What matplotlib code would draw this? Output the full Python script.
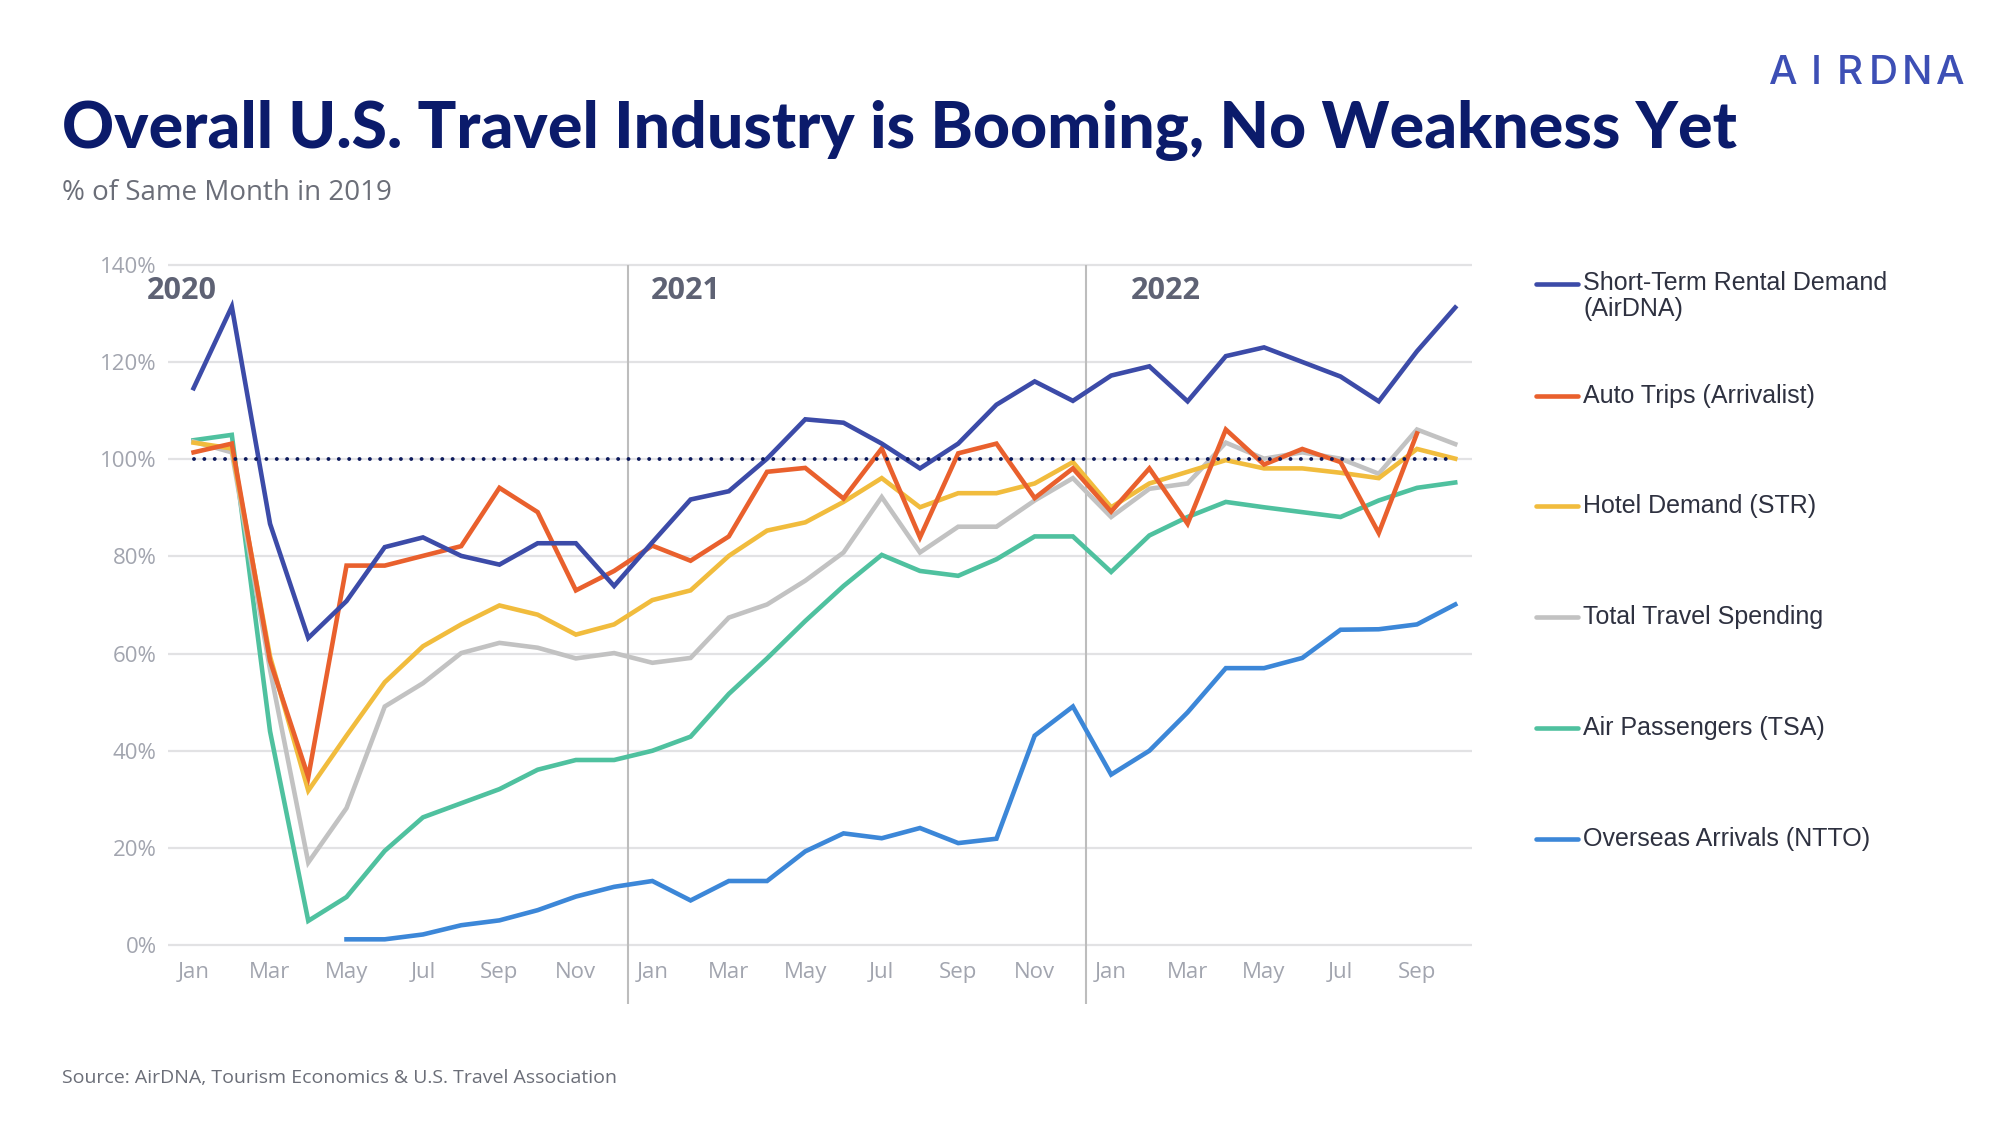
import numpy as np
import matplotlib
matplotlib.use("Agg")
import matplotlib.pyplot as plt
from matplotlib.lines import Line2D

# monthly values, Jan 2020 .. Oct 2022, % of same month in 2019
months = ['Jan', 'Feb', 'Mar', 'Apr', 'May', 'Jun', 'Jul', 'Aug', 'Sep', 'Oct', 'Nov', 'Dec'] * 2 + \
         ['Jan', 'Feb', 'Mar', 'Apr', 'May', 'Jun', 'Jul', 'Aug', 'Sep', 'Oct']
nan = np.nan

str_demand = [114.6, 131.4, 86.7, 63.2, 70.8, 81.9, 83.9, 80.1, 78.3, 82.7, 82.7, 73.9,
              82.9, 91.7, 93.4, 100.1, 108.2, 107.5, 103.2, 98.1, 103.2, 111.2, 116.0, 112.0,
              117.2, 119.1, 111.9, 121.2, 123.0, 120.0, 117.0, 111.9, 122.2, 131.2]
auto_trips = [101.4, 103.2, 58.5, 34.6, 78.1, 78.1, 80.1, 82.1, 94.1, 89.1, 73.0, 77.0,
              82.2, 79.1, 84.1, 97.4, 98.2, 91.9, 102.2, 83.9, 101.2, 103.2, 92.0, 98.1,
              89.2, 98.1, 86.7, 106.1, 98.9, 102.1, 99.4, 84.8, 105.3, nan]
hotel = [103.4, 102.2, 59.4, 31.8, 43.1, 54.1, 61.5, 66.0, 69.9, 68.0, 63.9, 66.0,
         71.0, 73.0, 80.1, 85.3, 87.0, 91.2, 96.1, 90.1, 93.0, 93.0, 95.0, 99.4,
         90.1, 95.0, 97.4, 99.8, 98.1, 98.1, 97.2, 96.1, 102.1, 100.1]
spending = [103.6, 101.4, 56.7, 17.0, 28.2, 49.1, 53.9, 60.1, 62.2, 61.2, 59.0, 60.1,
            58.1, 59.1, 67.4, 70.1, 75.0, 80.8, 92.2, 80.8, 86.1, 86.1, 91.5, 96.1,
            88.1, 93.9, 95.0, 103.4, 100.1, 101.4, 100.1, 97.0, 106.1, 103.1]
air_pass = [103.9, 105.0, 44.0, 5.0, 9.9, 19.4, 26.3, 29.2, 32.1, 36.1, 38.1, 38.1,
            40.0, 42.9, 51.7, 59.0, 66.7, 73.9, 80.3, 77.0, 76.0, 79.4, 84.1, 84.1,
            76.8, 84.3, 88.1, 91.2, 90.1, 89.1, 88.1, 91.5, 94.1, 95.2]
overseas = [nan, nan, nan, nan, 1.2, 1.2, 2.2, 4.1, 5.1, 7.2, 10.0, 12.0,
            13.2, 9.2, 13.2, 13.2, 19.3, 23.0, 22.0, 24.1, 21.0, 21.9, 43.1, 49.1,
            35.1, 40.0, 47.9, 57.0, 57.0, 59.1, 64.9, 65.0, 66.0, 70.1]

series_names = ['Short-Term Rental Demand\n(AirDNA)', 'Auto Trips (Arrivalist)', 'Hotel Demand (STR)',
                'Total Travel Spending', 'Air Passengers (TSA)', 'Overseas Arrivals (NTTO)']
series_colors = ['#3c4ba8', '#e9602d', '#f1bc3d', '#c2c2c2', '#4fc19f', '#3c87d8']
all_series = [str_demand, auto_trips, hotel, spending, air_pass, overseas]

years = ['2020', '2021', '2022']
year_x = [-0.3, 12.88, 25.44]
year_breaks = [11.35, 23.35]
yticks = [0, 20, 40, 60, 80, 100, 120, 140]

fig = plt.figure(figsize=(20.14, 11.24), dpi=100)
ax = fig.add_axes([0.0834, 0.1068, 0.6475, 0.6598])
x = np.arange(len(months))
xmin, xmax = -0.67, 33.44
ymin, ymax = -12.1, 140.5

# grid
ax.hlines(yticks, xmin, xmax, colors='#e2e2e4', lw=1.6, zorder=1)
ax.vlines(year_breaks, ymin, 140, colors='#bdbdbd', lw=1.5, zorder=1)

# 100% reference
ax.plot([0, 33], [100, 100], color='#0d1a5c', lw=2.8, linestyle=(0, (0.01, 2.65)),
        dash_capstyle='round', zorder=5)

# draw in reverse so the STR line sits on top
for vals, col in reversed(list(zip(all_series, series_colors))):
    ax.plot(x, vals, color=col, lw=3.3, solid_joinstyle='miter', zorder=3)

ax.set_xlim(xmin, xmax)
ax.set_ylim(ymin, ymax)
for s in ax.spines.values():
    s.set_visible(False)
ax.set_yticks(yticks)
ax.set_yticklabels(['%d%%' % v for v in yticks])
ax.set_xticks(x[::2])
ax.set_xticklabels(months[::2])
ax.tick_params(length=0, labelsize=16, labelcolor='#a2a5af', pad=8)
ax.tick_params(axis='x', pad=-30)
for lab in ax.get_xticklabels() + ax.get_yticklabels():
    lab.set_fontfamily('Open Sans')

for yr, xp in zip(years, year_x):
    ax.text(xp, 134.7, yr, ha='center', va='center', fontsize=22, fontweight='bold',
            color='#5e6274', family='Open Sans')

# legend, drawn by hand at the right
leg_y = [0.7473, 0.6477, 0.5498, 0.4512, 0.3523, 0.2536]
for name, col, yy in zip(series_names, series_colors, leg_y):
    fig.add_artist(Line2D([0.7627, 0.7835], [yy, yy], color=col, lw=3.3, solid_capstyle='round'))
    if '\n' in name:
        fig.text(0.7860, yy + 0.012, name, ha='left', va='top', fontsize=18, color='#2e3140',
                 family='Liberation Sans', linespacing=1.15)
    else:
        fig.text(0.7860, yy, name, ha='left', va='center', fontsize=18, color='#2e3140',
                 family='Liberation Sans')

# titles
fig.text(0.0308, 0.868, 'Overall U.S. Travel Industry is Booming, No Weakness Yet', ha='left',
         va='baseline', fontsize=46.4, fontweight='black', color='#0b1b6b', family='Lato')
fig.text(0.0308, 0.828, '% of Same Month in 2019', ha='left', va='center', fontsize=20,
         color='#6b6e78', family='Open Sans')

# logo, letters spread out
logo = 'AIRDNA'
for i, ch in enumerate(logo):
    fig.text(0.8853 + i * 0.0166, 0.935, ch, ha='center', va='center', fontsize=29,
             color='#3d4fb5', family='Inter', fontweight='medium')

fig.text(0.0308, 0.0405, 'Source: AirDNA, Tourism Economics & U.S. Travel Association', ha='left',
         va='center', fontsize=14, color='#6b6e78', family='Open Sans')

fig.savefig('out.png', dpi=100, facecolor='white')
